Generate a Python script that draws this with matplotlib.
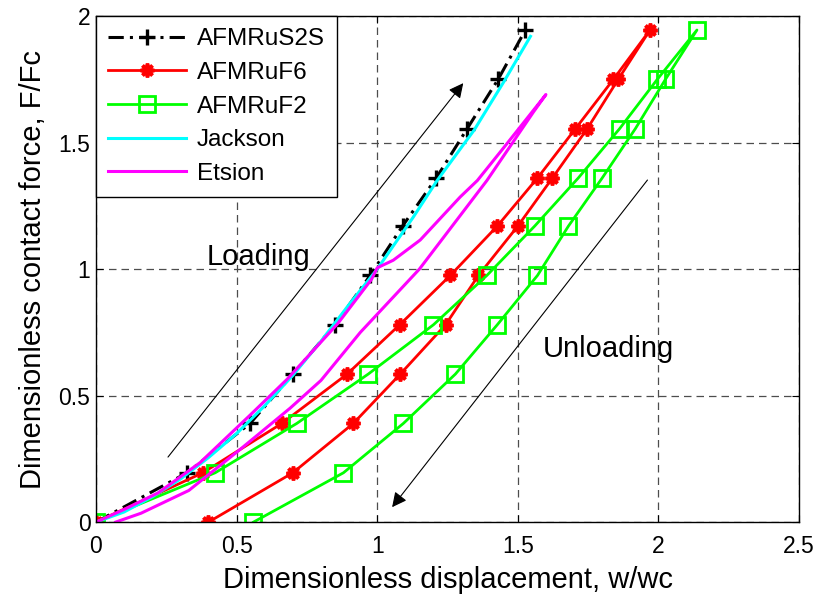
"""Loading/unloading curves: dimensionless contact force vs displacement."""
import matplotlib
matplotlib.use("Agg")
import matplotlib.pyplot as plt

plt.rcParams.update({
    "font.family": ["Liberation Sans", "DejaVu Sans"],
    "font.size": 16,
    "axes.linewidth": 1.0,
})

# force levels shared by the FE runs (loading up, unloading down)
f_up = [0, 0.195, 0.39, 0.585, 0.78, 0.975, 1.17, 1.36, 1.555, 1.75, 1.945]
f_down = f_up[::-1]

s2s_x = [0, 0.324, 0.548, 0.70, 0.85, 0.975, 1.09, 1.21, 1.32, 1.43, 1.527]

f6_load_x = [0, 0.38, 0.661, 0.893, 1.08, 1.26, 1.427, 1.57, 1.705, 1.84, 1.97]
f6_unload_x = [1.97, 1.857, 1.747, 1.623, 1.50, 1.36, 1.243, 1.082, 0.915, 0.70, 0.40]

f2_load_x = [0, 0.424, 0.714, 0.968, 1.20, 1.39, 1.56, 1.715, 1.862, 1.996, 2.137]
f2_unload_x = [2.137, 2.025, 1.918, 1.80, 1.68, 1.57, 1.427, 1.278, 1.093, 0.88, 0.56]

jackson_x = [0, 0.1, 0.2, 0.3, 0.4, 0.5, 0.6, 0.7, 0.8, 0.9, 1.0, 1.128, 1.213, 1.345, 1.45, 1.545]
jackson_y = [0, 0.04, 0.10, 0.17, 0.255, 0.35, 0.46, 0.58, 0.715, 0.86, 1.0, 1.205, 1.35, 1.55, 1.74, 1.92]

etsion_x = [0, 0.1, 0.22, 0.37, 0.55, 0.68, 0.86, 0.98, 1.0, 1.057, 1.153, 1.295, 1.356, 1.45, 1.6,
            1.555, 1.39, 1.15, 0.94, 0.80, 0.69, 0.51, 0.33, 0.16, 0.07]
etsion_y = [0, 0.05, 0.115, 0.235, 0.425, 0.565, 0.785, 0.96, 1.005, 1.035, 1.115, 1.285, 1.35, 1.48, 1.69,
            1.62, 1.35, 1.0, 0.75, 0.56, 0.45, 0.285, 0.125, 0.035, 0.0]

fig = plt.figure(figsize=(8.17, 5.96), dpi=100)
ax = fig.add_axes([0.1175, 0.124, 0.8605, 0.849])

lw = 2.0
ax.plot(s2s_x, f_up, color="black", lw=2.2, ls=(0, (5, 2, 1, 2)),
        marker="+", ms=11, mew=2.4, label="AFMRuS2S")
ax.plot(f6_load_x + f6_unload_x[1:], f_up + f_down[1:], color="#ff0000", lw=lw,
        marker=(8, 2, 0), ms=10, mew=2.6, label="AFMRuF6")
ax.plot(f2_load_x + f2_unload_x[1:], f_up + f_down[1:], color="#00ff00", lw=lw,
        marker="s", ms=12, mfc="none", mew=2.0, label="AFMRuF2")
ax.plot(jackson_x, jackson_y, color="#00ffff", lw=2.2, label="Jackson")
ax.plot(etsion_x, etsion_y, color="#ff00ff", lw=2.2, label="Etsion")

# loading / unloading arrows
arrow = dict(arrowstyle="-|>", color="black", lw=0.8, mutation_scale=22,
             shrinkA=0, shrinkB=0)
ax.annotate("", xy=(1.306, 1.735), xytext=(0.256, 0.257), arrowprops=arrow)
ax.annotate("", xy=(1.053, 0.059), xytext=(1.961, 1.352), arrowprops=arrow)
ax.text(0.577, 1.016, "Loading", fontsize=21, ha="center", va="baseline")
ax.text(1.59, 0.652, "Unloading", fontsize=21, ha="left", va="baseline")

ax.set_xlim(0, 2.5)
ax.set_ylim(0, 2)
ax.set_xticks([0, 0.5, 1, 1.5, 2, 2.5])
ax.set_xticklabels(["0", "0.5", "1", "1.5", "2", "2.5"])
ax.set_yticks([0, 0.5, 1, 1.5, 2])
ax.set_yticklabels(["0", "0.5", "1", "1.5", "2"])
ax.tick_params(direction="in", top=True, right=True, length=5, labelsize=16.5)
ax.tick_params(axis="x", pad=9)
ax.tick_params(axis="y", pad=4)
ax.grid(True, color="0.3", ls=(0, (6, 4)), lw=0.9)
ax.set_xlabel("Dimensionless displacement, w/wc", fontsize=21, labelpad=6)
ax.set_ylabel("Dimensionless contact force, F/Fc", fontsize=21, labelpad=8)

leg = ax.legend(loc="upper left", fontsize=17.5, borderaxespad=0, handlelength=3.2,
                handletextpad=0.45, labelspacing=0.48, borderpad=0.5, fancybox=False,
                framealpha=1, edgecolor="black")
leg.get_frame().set_linewidth(1.0)

fig.savefig("out.png", dpi=100)
